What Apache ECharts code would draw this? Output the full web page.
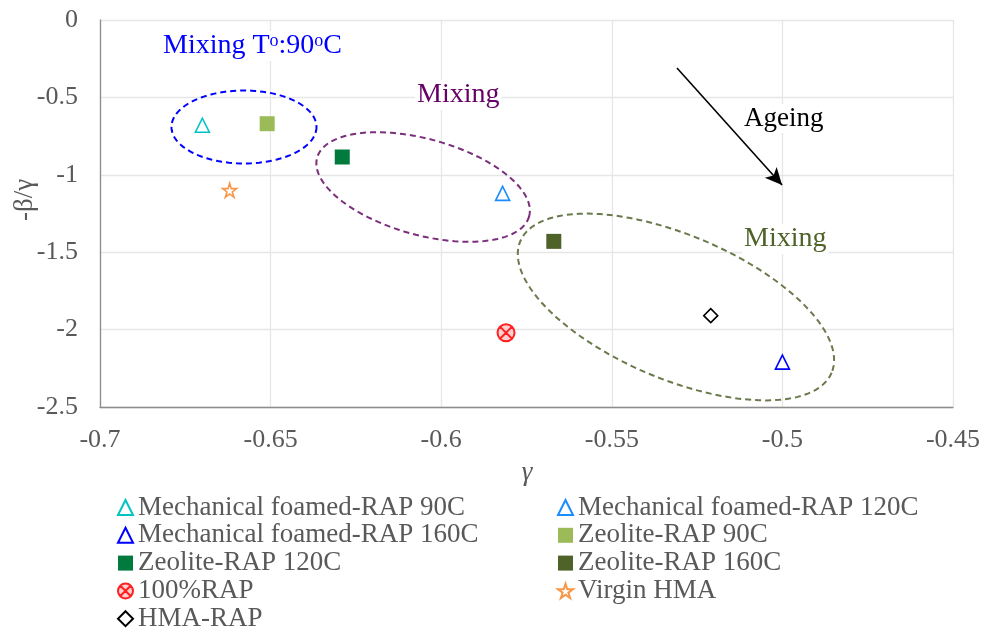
<!DOCTYPE html>
<html><head><meta charset="utf-8">
<script src="https://cdn.jsdelivr.net/npm/echarts@6/dist/echarts.min.js"></script>
<style>html,body{margin:0;padding:0;background:#fff}#c{width:983px;height:632px}</style>
</head><body><div id="c"></div>
<script>
// ---- data ----
const seriesNames = [
  'Mechanical foamed-RAP 90C', 'Mechanical foamed-RAP 120C',
  'Mechanical foamed-RAP 160C', 'Zeolite-RAP 90C',
  'Zeolite-RAP 120C', 'Zeolite-RAP 160C',
  '100%RAP', 'Virgin HMA', 'HMA-RAP'
];
const mechFoamed90C  = [[-0.670, -0.68]];
const mechFoamed120C = [[-0.582, -1.12]];
const mechFoamed160C = [[-0.500, -2.21]];
const zeolite90C     = [[-0.651, -0.67]];
const zeolite120C    = [[-0.629, -0.885]];
const zeolite160C    = [[-0.567, -1.43]];
const rap100         = [[-0.581, -2.02]];
const virginHMA      = [[-0.662, -1.10]];
const hmaRAP         = [[-0.521, -1.91]];
const xRange = [-0.7, -0.45, 0.05];
const yRange = [-2.5, 0, 0.5];
const xAxisTitle = 'γ';
const yAxisTitle = '-β/γ';
// group ellipse centres (data coords) and ageing arrow (data coords)
const groupCenters = [[-0.6578, -0.691], [-0.6053, -1.079], [-0.5312, -1.854]];
const ageingArrow = [[-0.5309, -0.31], [-0.5001, -1.066]];
const legendLeft = ['Mechanical foamed-RAP 90C', 'Mechanical foamed-RAP 160C', 'Zeolite-RAP 120C', '100%RAP', 'HMA-RAP'];
const legendRight = ['Mechanical foamed-RAP 120C', 'Zeolite-RAP 90C', 'Zeolite-RAP 160C', 'Virgin HMA'];

// ---- styles ----
const FONT = "'Liberation Serif','Times New Roman',serif";
const GREY = '#595959';
const ellipseStyle = [
  {a: 72.5, b: 36.5, rot: 0, color: '#0000FF'},
  {a: 110, b: 48, rot: 15.5, color: '#7B2F7B'},
  {a: 169, b: 72, rot: 22.9, color: '#6B7A4C'}
];
const STAR = 'path://M50,0 L61.2,34.5 L97.6,34.5 L68.2,55.9 L79.4,90.5 L50,69.1 L20.6,90.5 L31.8,55.9 L2.4,34.5 L38.8,34.5 Z';
const CIRCX = 'path://M10,0A10,10,0,1,1,10,20A10,10,0,1,1,10,0Z M3.2,3.2L16.8,16.8M16.8,3.2L3.2,16.8';

function sc(name, data, symbol, size, fill, border, bw) {
  return {
    name, type: 'scatter', data, symbol, symbolSize: size,
    itemStyle: {color: fill, borderColor: border, borderWidth: bw, opacity: 1},
    emphasis: {disabled: true}, z: 5
  };
}

const legendBase = {
  top: 494, orient: 'vertical', itemGap: 0.8, itemWidth: 15, itemHeight: 15,
  padding: 0, height: 200,
  textStyle: {fontFamily: FONT, fontSize: 27, color: GREY, lineHeight: 27}
};

const chart = echarts.init(document.getElementById('c'));
const option = {
  animation: false,
  backgroundColor: '#fff',
  textStyle: {fontFamily: FONT},
  grid: {left: 100, right: 30, top: 20, bottom: 225, containLabel: false, outerBoundsMode: 'none'},
  xAxis: {
    type: 'value', min: xRange[0], max: xRange[1], interval: xRange[2],
    axisLine: {onZero: false, lineStyle: {color: '#8c8c8c', width: 1.3}},
    axisTick: {show: false},
    axisLabel: {fontFamily: FONT, fontSize: 26, color: GREY, margin: 20},
    splitLine: {show: true, lineStyle: {color: '#e6e6e6', width: 1.3}}
  },
  yAxis: {
    type: 'value', min: yRange[0], max: yRange[1], interval: yRange[2],
    axisLine: {show: true, onZero: false, lineStyle: {color: '#8c8c8c', width: 1.3}},
    axisTick: {show: false},
    axisLabel: {fontFamily: FONT, fontSize: 26, color: GREY, margin: 22},
    splitLine: {show: true, lineStyle: {color: '#e6e6e6', width: 1.3}}
  },
  legend: [
    Object.assign({left: 117, data: legendLeft}, legendBase),
    Object.assign({left: 557, data: legendRight}, legendBase)
  ],
  series: [
    {
      type: 'custom', name: 'groups', data: groupCenters, silent: true, z: 3,
      renderItem: function (params, api) {
        const c = api.coord([api.value(0), api.value(1)]);
        const s = ellipseStyle[params.dataIndex];
        const th = s.rot * Math.PI / 180;
        const pts = [];
        for (let i = 0; i <= 120; i++) {
          const t = i / 120 * Math.PI * 2;
          const ex = s.a * Math.cos(t), ey = s.b * Math.sin(t);
          pts.push([c[0] + ex * Math.cos(th) - ey * Math.sin(th), c[1] + ex * Math.sin(th) + ey * Math.cos(th)]);
        }
        return {
          type: 'polyline', shape: {points: pts},
          style: {fill: null, stroke: s.color, lineWidth: 2, lineDash: [6, 4]}
        };
      },
      markLine: {
        silent: true, symbol: ['none', 'arrow'], symbolSize: [12, 17],
        label: {show: false},
        lineStyle: {color: '#000', width: 1.6, type: 'solid'},
        data: [[{coord: ageingArrow[0]}, {coord: ageingArrow[1]}]]
      }
    },
    sc(seriesNames[0], mechFoamed90C, 'triangle', 14, '#fff', '#00C4C4', 1.6),
    sc(seriesNames[1], mechFoamed120C, 'triangle', 14, '#fff', '#1A8CFF', 1.6),
    sc(seriesNames[2], mechFoamed160C, 'triangle', 14, '#fff', '#0000FF', 1.6),
    sc(seriesNames[3], zeolite90C, 'rect', 15, '#9BBB59', '#9BBB59', 0),
    sc(seriesNames[4], zeolite120C, 'rect', 15, '#007A3D', '#007A3D', 0),
    sc(seriesNames[5], zeolite160C, 'rect', 15, '#4F6228', '#4F6228', 0),
    sc(seriesNames[6], rap100, CIRCX, 17, '#FFD0D0', '#FF2020', 2),
    sc(seriesNames[7], virginHMA, STAR, 14, '#fff', '#F79646', 1.6),
    sc(seriesNames[8], hmaRAP, 'diamond', 14, '#fff', '#000000', 1.6)
  ],
  graphic: [
    {type: 'text', x: 527, y: 473, style: {
      text: xAxisTitle, fill: GREY, font: 'italic 27px ' + FONT, align: 'center', verticalAlign: 'middle'}},
    {type: 'text', x: 25, y: 200, rotation: Math.PI / 2, style: {
      text: yAxisTitle, fill: GREY, font: '27px ' + FONT, align: 'center', verticalAlign: 'middle'}},
    {type: 'text', left: 161, top: 31, z: 10, style: {
      text: 'Mixing T{s|o}:90{s|o}C', fill: '#0000FF', font: '28px ' + FONT,
      backgroundColor: '#fff', padding: [1, 2],
      rich: {s: {fontSize: 18, verticalAlign: 'top', fill: '#0000FF', padding: [0, 0, 10, 0], fontFamily: FONT}}
    }},
    {type: 'text', left: 415, top: 80, z: 10, style: {text: 'Mixing', fill: '#660066', font: '28px ' + FONT,
      backgroundColor: '#fff', padding: [1, 2]}},
    {type: 'text', left: 742, top: 104, z: 10, style: {text: 'Ageing', fill: '#000', font: '27px ' + FONT,
      backgroundColor: '#fff', padding: [1, 2]}},
    {type: 'text', left: 742, top: 224, z: 10, style: {text: 'Mixing', fill: '#4F6228', font: '28px ' + FONT,
      backgroundColor: '#fff', padding: [1, 2]}}
  ]
};
chart.setOption(option);
</script>
</body></html>
